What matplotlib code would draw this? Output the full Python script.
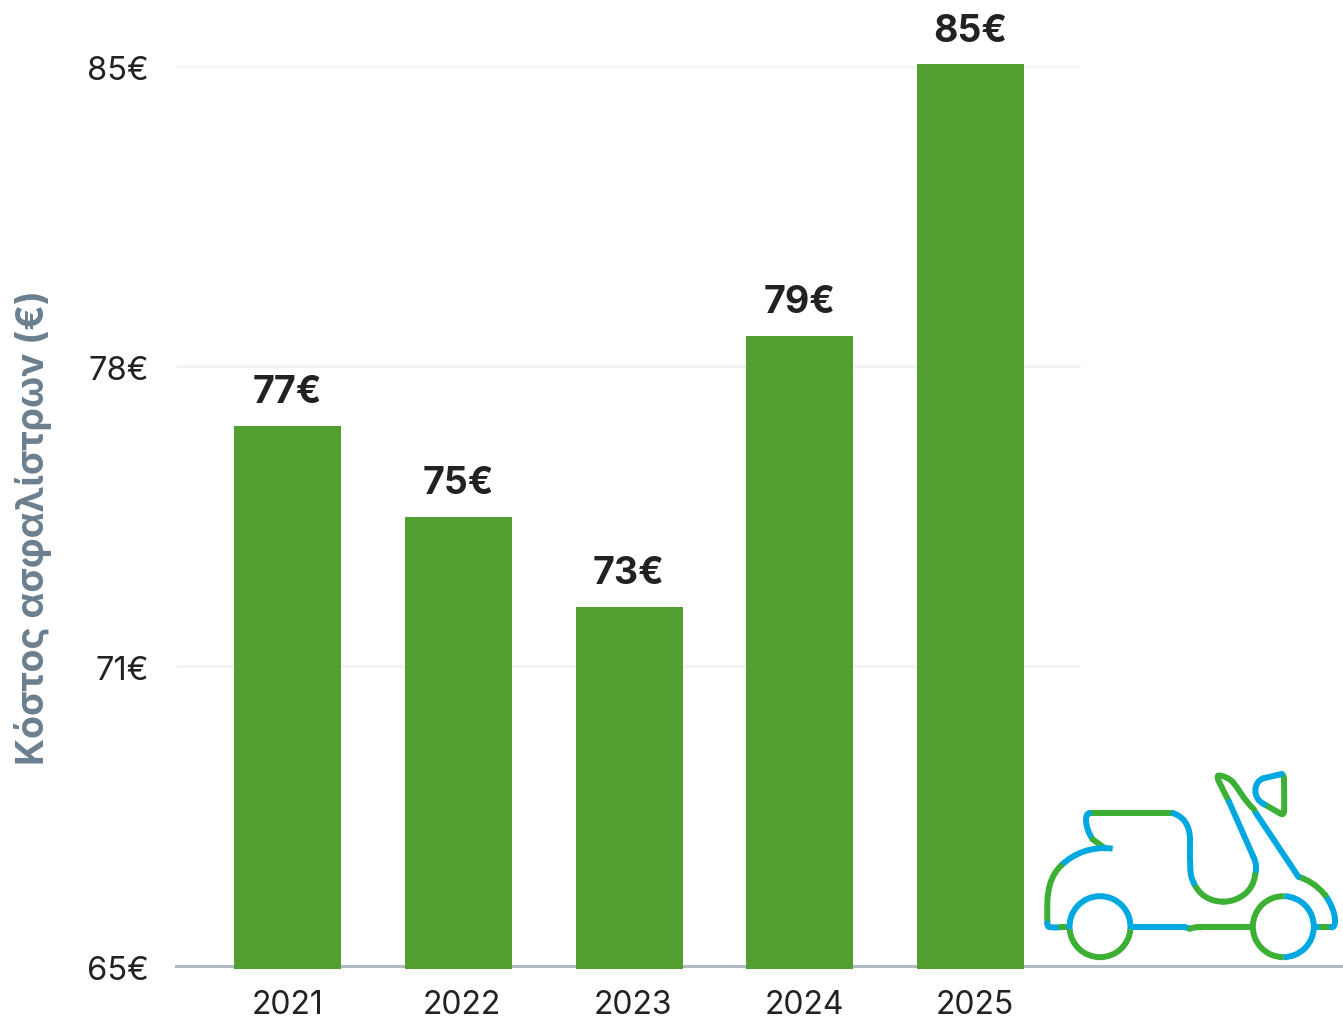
import matplotlib
matplotlib.use('Agg')
import matplotlib.pyplot as plt
import numpy as np
from matplotlib.path import Path
from matplotlib.patches import PathPatch, Arc
from matplotlib.transforms import ScaledTranslation

years = ['2021', '2022', '2023', '2024', '2025']
values = [77, 74.98, 72.98, 79, 85.04]
bar_labels = ['77€', '75€', '73€', '79€', '85€']
y_ticks = [65, 65 + 20 / 3, 65 + 40 / 3, 85]
y_tick_labels = ['65€', '71€', '78€', '85€']
y_title = 'Κόστος ασφαλίστρων (€)'

W, H = 1343, 1019
BAR_GREEN = '#529e31'
INK = '#222222'
BLUE = '#00a8e1'
GREEN = '#3cb034'

plt.rcParams['font.family'] = ['Inter', 'Noto Sans', 'DejaVu Sans']

fig = plt.figure(figsize=(W / 100, H / 100), dpi=100)
ax = fig.add_axes([176 / W, 1 - 966 / H, (W - 176) / W, 900 / H])

step = 170.75
x = np.arange(len(years))
ax.set_xlim((176 - 287.5) / step, (W - 287.5) / step)
ax.set_ylim(65, 85)

grid_end = (1080 - 287.5) / step
for t in y_ticks[1:]:
    ax.plot([ax.get_xlim()[0], grid_end], [t, t], color='#f3f3f3', lw=2.2, zorder=1, solid_capstyle='butt')

bar_bottom = 64.93
heights = [v - bar_bottom for v in values]
ax.bar(x, heights, bottom=bar_bottom, width=107 / step, color=BAR_GREEN, zorder=3, clip_on=False)

for xi, v, lab in zip(x, values, bar_labels):
    ax.annotate(lab, (xi, v), xytext=(0, 16.3), textcoords='offset points', ha='center', va='baseline',
                fontsize=27, fontweight='bold', color=INK, annotation_clip=False)

for s in ['top', 'left', 'right']:
    ax.spines[s].set_visible(False)
ax.spines['bottom'].set_color('#b0b8bf')
ax.spines['bottom'].set_linewidth(2.2)

label_shift = np.array([0.5, 3.5, 3.5, 4.5, 4.5]) / step
ax.set_xticks(x + label_shift)
ax.set_xticklabels(years, fontsize=23, color=INK)
ax.set_yticks(y_ticks)
ax.set_yticklabels(y_tick_labels, fontsize=23.5, color=INK)
ax.tick_params(axis='both', length=0)
ax.tick_params(axis='x', pad=17)
ax.tick_params(axis='y', pad=19.5)

# the y labels sit a little under their grid lines in the original
nudge = ScaledTranslation(0, -2 / 100, fig.dpi_scale_trans)
for lab in ax.get_yticklabels():
    lab.set_transform(lab.get_transform() + nudge)

fig.text(33 / W, 1 - 528 / H, y_title, rotation=90, ha='center', va='center',
         fontsize=27, fontweight='bold', color='#6b7f8e')

# scooter icon, coordinates taken from the zoomed crop
over = fig.add_axes([0, 0, 1, 1], facecolor='none')
over.set_xlim(0, W)
over.set_ylim(H, 0)
over.axis('off')

def to_px(p):
    return (1030 + p[0] / 3, 760 + p[1] / 3)

def stroke(pts, color, cap='round'):
    pts = [to_px(p) for p in pts]
    if len(pts) == 2:
        codes = [Path.MOVETO, Path.LINETO]
    elif len(pts) == 3:
        codes = [Path.MOVETO, Path.CURVE3, Path.CURVE3]
    else:
        codes = [Path.MOVETO] + [Path.CURVE4] * (len(pts) - 1)
    over.add_patch(PathPatch(Path(pts, codes), fill=False, edgecolor=color, lw=4.3, capstyle=cap))

def wheel(cx, theta1, theta2, color):
    c = to_px((cx, 500))
    over.add_patch(Arc(c, 61, 61, theta1=theta1, theta2=theta2, edgecolor=color, lw=4.3))

stroke([(180, 160), (430, 160)], GREEN)
stroke([(178, 160), (162, 160), (165, 205), (188, 238)], BLUE)
stroke([(188, 238), (225, 265)], GREEN)
stroke([(248, 266), (185, 258), (130, 280), (92, 318)], BLUE, cap='butt')
stroke([(92, 318), (45, 365), (52, 430), (52, 490)], GREEN)
stroke([(52, 490), (52, 505), (60, 502), (92, 502)], BLUE)
stroke([(92, 502), (118, 502)], GREEN)

# Arc angles run clockwise on screen because the y axis is flipped
wheel(210, 175, 365, BLUE)
wheel(210, 5, 175, GREEN)
wheel(760, 90, 272, GREEN)
wheel(760, 272, 450, BLUE)

stroke([(305, 502), (465, 502)], BLUE)
stroke([(465, 502), (480, 506)], BLUE)
stroke([(480, 506), (500, 499), (515, 502)], GREEN)
stroke([(500, 502), (665, 502)], GREEN)
stroke([(855, 502), (875, 502)], BLUE)
stroke([(875, 502), (905, 502)], GREEN)
stroke([(905, 502), (925, 500), (915, 445), (885, 405)], BLUE)
stroke([(885, 405), (860, 375), (835, 360), (805, 350)], GREEN)
stroke([(805, 350), (675, 155)], BLUE)
stroke([(672, 148), (640, 118), (625, 85), (610, 68)], GREEN)
stroke([(610, 68), (600, 55), (575, 45), (565, 47)], GREEN)
stroke([(565, 47), (558, 55), (570, 70), (597, 125)], GREEN)
stroke([(597, 125), (670, 290)], BLUE)
stroke([(670, 290), (680, 310), (680, 330), (675, 345)], BLUE)
stroke([(675, 345), (670, 395), (625, 425), (580, 425)], GREEN)
stroke([(580, 425), (535, 425), (505, 400), (492, 370)], GREEN)
stroke([(492, 370), (478, 345), (480, 320), (480, 240)], BLUE)
stroke([(480, 240), (480, 195), (460, 170), (430, 160)], BLUE)
stroke([(703, 133), (750, 160)], GREEN)
stroke([(750, 160), (768, 170), (762, 150), (762, 60)], GREEN)
stroke([(762, 60), (762, 50), (760, 45), (755, 42)], GREEN)
stroke([(755, 42), (700, 55)], BLUE)
stroke([(700, 55), (670, 65), (665, 115), (703, 133)], BLUE)

fig.savefig('out.png', dpi=100)
